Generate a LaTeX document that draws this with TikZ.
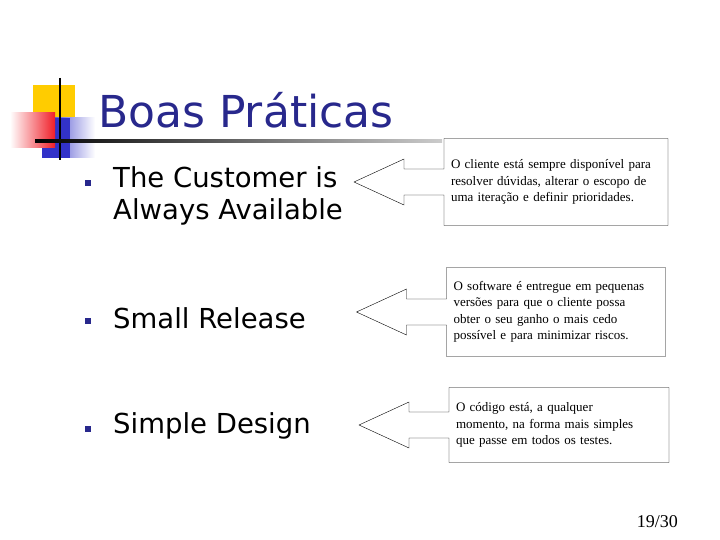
\documentclass[tikz,border=0pt]{standalone}
\usepackage{fontspec}
\setmainfont{Liberation Serif}
\newfontfamily\slidefont{DejaVu Sans}
\usetikzlibrary{calc,positioning}
\definecolor{navy}{RGB}{40,40,140}
\definecolor{logoyellow}{RGB}{255,204,0}
\definecolor{logored}{RGB}{240,30,40}
\definecolor{logoblue}{RGB}{50,50,200}
\tikzset{
  notebox/.style={font=\fontsize{13}{16.5}\selectfont, align=left, inner sep=0pt},
  bulletbox/.style={fill=navy, minimum size=6pt, inner sep=0pt},
  itemtext/.style={font=\slidefont\fontsize{27.5}{32}\selectfont, anchor=west, align=left, inner sep=0pt}
}
% box outline with arrow pointing left: name, width, height
\newcommand{\callshape}[3]{%
  \draw ($(#1)+(-#2/2,-#3/2)$) -- ($(#1)+(#2/2,-#3/2)$) -- ($(#1)+(#2/2,#3/2)$)
     -- ($(#1)+(-#2/2,#3/2)$) -- ($(#1)+(-#2/2,13)$) -- ($(#1)+(-#2/2-40,13)$)
     -- ($(#1)+(-#2/2-40,23)$) -- ($(#1)+(-#2/2-90,0)$) -- ($(#1)+(-#2/2-40,-23)$)
     -- ($(#1)+(-#2/2-40,-13)$) -- ($(#1)+(-#2/2,-13)$) -- cycle;}
\begin{document}
\begin{tikzpicture}[x=1pt,y=-1pt]
	\useasboundingbox (0,0) rectangle (720,540);

	% logo
	\fill[logoyellow] (33,85) rectangle (75,125);
	\shade[left color=logoblue, right color=white] (42,118) rectangle (95,158);
	\fill[logoblue] (42,118) rectangle (70,158);
	\shade[left color=white, right color=logored] (10,113) rectangle (55,148);
	\draw[line width=2pt] (60,78) -- (60,160);
	\shade[left color=black, right color=gray!40] (35,140) rectangle (442,142.5);
	\node[anchor=west, text=navy, font=\slidefont\fontsize{44}{48}\selectfont, inner sep=0pt] (title) at (98,110) {Boas Práticas};

	% items
	\node[bulletbox] (b1) at (88,183) {};
	\node[itemtext] (customer) at (113,196) {The Customer is\\Always Available};
	\node[bulletbox] (b2) at (88,321) {};
	\node[itemtext] (release) at (113,318) {Small Release};
	\node[bulletbox] (b3) at (88,429) {};
	\node[itemtext] (design) at (113,426) {Simple Design};

	% callouts
	\node[notebox, text width=210pt] (note1) at (556,182) {O cliente está sempre disponível para\\resolver dúvidas, alterar o escopo de\\uma iteração e definir prioridades.};
	\callshape{note1}{224}{87}
	\node[notebox, text width=205pt] (note2) at (556,312) {O software é entregue em pequenas\\versões para que o cliente possa\\obter o seu ganho o mais cedo\\possível e para minimizar riscos.};
	\callshape{note2}{219}{89}
	\node[notebox, text width=206pt] (note3) at (559,425) {O código está, a qualquer\\momento, na forma mais simples\\que passe em todos os testes.};
	\callshape{note3}{220}{75}

	\node[anchor=east, font=\fontsize{18}{20}\selectfont, inner sep=0pt] (page) at (678,522) {19/30};
\end{tikzpicture}
\end{document}
